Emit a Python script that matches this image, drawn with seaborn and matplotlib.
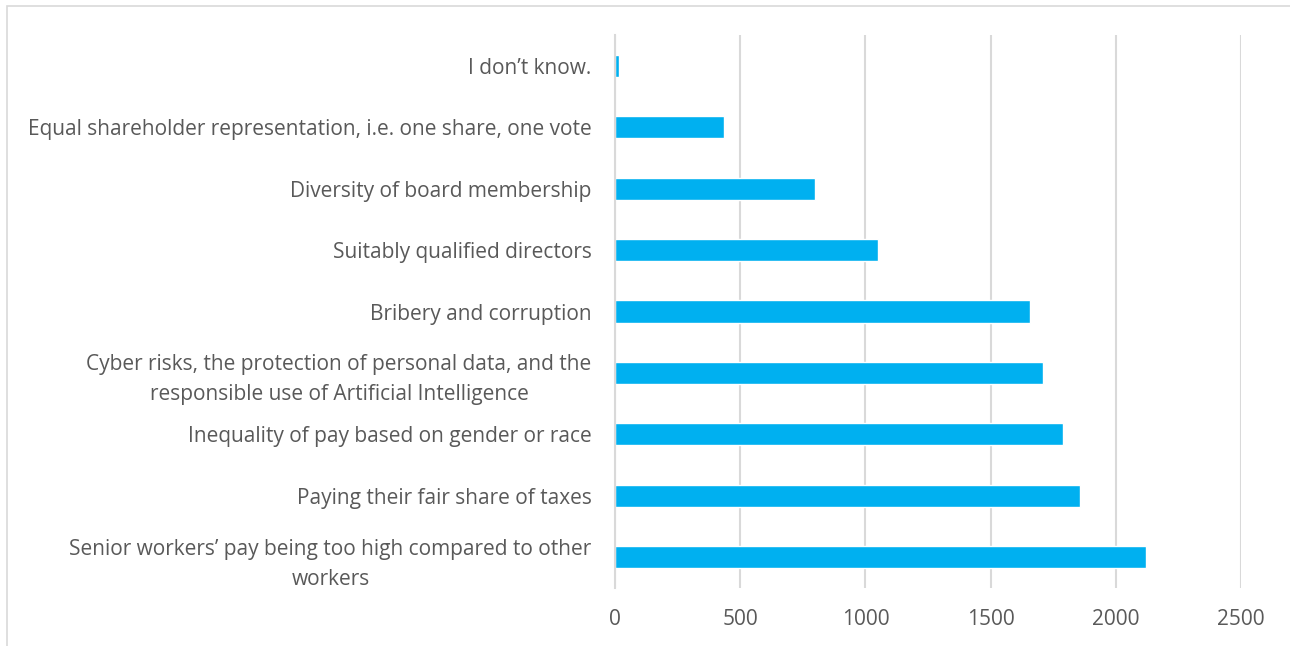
import matplotlib
matplotlib.use("Agg")
import matplotlib.pyplot as plt
import seaborn as sns
import pandas as pd
from matplotlib.patches import Rectangle

# Data (top to bottom)
categories = [
    "I don\u2019t know.",
    "Equal shareholder representation, i.e. one share, one vote",
    "Diversity of board membership",
    "Suitably qualified directors",
    "Bribery and corruption",
    "Cyber risks, the protection of personal data, and the\nresponsible use of Artificial Intelligence",
    "Inequality of pay based on gender or race",
    "Paying their fair share of taxes",
    "Senior workers\u2019 pay being too high compared to other\nworkers",
]
counts = [15, 434, 798, 1050, 1658, 1710, 1790, 1858, 2122]
xticks = [0, 500, 1000, 1500, 2000, 2500]

df = pd.DataFrame({"category": categories, "count": counts})

sns.set_style("white")
plt.rcParams["font.family"] = ["Open Sans", "DejaVu Sans"]

fig = plt.figure(figsize=(12.9, 6.46), dpi=100)
ax = fig.add_axes([0.477, 0.0898, 0.9618 - 0.477, 0.9458 - 0.0898])

sns.barplot(data=df, x="count", y="category", orient="h", color="#00B0F0",
            width=0.36, saturation=1, ax=ax)

ax.set_xlim(0, 2500)
ax.set_ylim(len(categories) - 0.5, -0.5)
ax.set_xticks(xticks)
ax.set_xlabel("")
ax.set_ylabel("")

ax.grid(axis="x", color="#D9D9D9", linewidth=1.5)
ax.set_axisbelow(True)
for s in ["top", "right", "bottom"]:
    ax.spines[s].set_visible(False)
ax.spines["left"].set_color("#D9D9D9")
ax.spines["left"].set_linewidth(1.5)

ax.tick_params(axis="both", length=0, labelsize=15, colors="#595959")
ax.tick_params(axis="x", pad=15)
ax.tick_params(axis="y", pad=17)
for lbl in ax.get_yticklabels():
    lbl.set_multialignment("center")
    lbl.set_linespacing(1.55)

# chart frame
fig.patches.append(Rectangle((7 / 1290, -0.1), 1.2, 1 - 6 / 646 + 0.1,
                             transform=fig.transFigure, fill=False,
                             edgecolor="#D9D9D9", linewidth=1.2))

fig.savefig("out.png", dpi=100)
